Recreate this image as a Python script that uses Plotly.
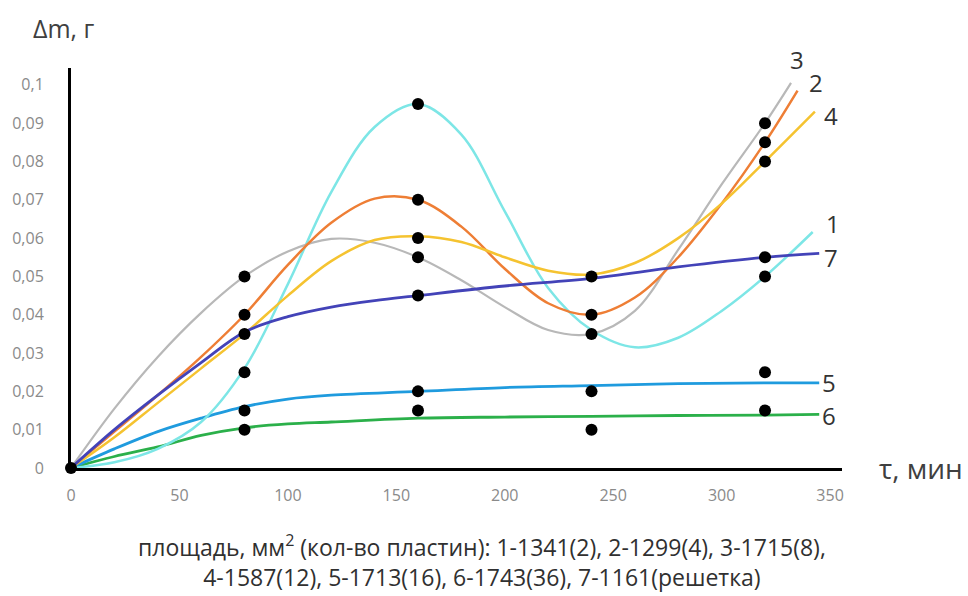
import plotly.graph_objects as go

# ---- data ----
# measured points (black dots)
dot_x = [0,
         80, 80, 80, 80, 80, 80,
         160, 160, 160, 160, 160, 160, 160,
         240, 240, 240, 240, 240,
         320, 320, 320, 320, 320, 320, 320]
dot_y = [0,
         0.05, 0.04, 0.035, 0.025, 0.015, 0.01,
         0.095, 0.07, 0.06, 0.055, 0.045, 0.02, 0.015,
         0.05, 0.04, 0.035, 0.02, 0.01,
         0.09, 0.085, 0.08, 0.055, 0.05, 0.025, 0.015]

# smoothed curves
c1_x = [0, 20, 40, 60, 80, 100, 120, 140, 160, 180, 200, 220, 240, 260, 280, 300, 320, 342]
c1_y = [0, 0.0015, 0.005, 0.012, 0.026, 0.048, 0.072, 0.089, 0.095, 0.087, 0.067, 0.047,
        0.036, 0.0315, 0.034, 0.041, 0.050, 0.0616]

c2_x = [0, 20, 40, 60, 80, 100, 120, 140, 160, 180, 200, 220, 240, 260, 280, 300, 320, 335]
c2_y = [0, 0.0095, 0.019, 0.029, 0.040, 0.053, 0.064, 0.0703, 0.070, 0.063, 0.052, 0.043,
        0.040, 0.0445, 0.055, 0.069, 0.085, 0.0985]

c3_x = [0, 20, 40, 60, 80, 100, 120, 140, 160, 180, 200, 220, 240, 260, 280, 300, 320, 332]
c3_y = [0, 0.0155, 0.029, 0.0405, 0.050, 0.0565, 0.0598, 0.0588, 0.055, 0.049, 0.042, 0.036,
        0.035, 0.041, 0.057, 0.074, 0.090, 0.1005]

c4_x = [0, 20, 40, 60, 80, 100, 120, 140, 160, 180, 200, 220, 240, 260, 280, 300, 320, 343]
c4_y = [0, 0.008, 0.017, 0.026, 0.035, 0.045, 0.054, 0.0595, 0.0605, 0.059, 0.055, 0.0515,
        0.0505, 0.0535, 0.060, 0.069, 0.080, 0.093]

c5_x = [0, 20, 40, 60, 80, 100, 120, 160, 200, 240, 280, 320, 345]
c5_y = [0, 0.005, 0.0095, 0.013, 0.016, 0.018, 0.019, 0.020, 0.021, 0.0215, 0.022, 0.0222, 0.0222]

c6_x = [0, 20, 40, 60, 80, 100, 120, 160, 200, 240, 280, 320, 345]
c6_y = [0, 0.003, 0.0055, 0.0085, 0.0105, 0.0115, 0.012, 0.013, 0.0133, 0.0135, 0.0137, 0.0138, 0.014]

c7_x = [0, 20, 40, 60, 80, 100, 120, 140, 160, 200, 240, 280, 320, 345]
c7_y = [0, 0.010, 0.019, 0.0275, 0.0355, 0.0395, 0.042, 0.0437, 0.045, 0.0475, 0.0495, 0.0525,
        0.055, 0.056]

# curve end labels
lab_text = ["3", "2", "4", "1", "7", "5", "6"]
lab_x = [330.5, 339.5, 346.5, 347, 346.5, 345.5, 345.5]
lab_y = [0.1065, 0.1005, 0.092, 0.0637, 0.055, 0.0224, 0.0136]

x_ticks = [0, 50, 100, 150, 200, 250, 300, 350]
x_ticktext = ["0", "50", "100", "150", "200", "250", "300", "350"]
y_ticks = [0, 0.01, 0.02, 0.03, 0.04, 0.05, 0.06, 0.07, 0.08, 0.09, 0.1]
y_ticktext = ["0", "0,01", "0,02", "0,03", "0,04", "0,05", "0,06", "0,07", "0,08", "0,09", "0,1"]

caption = ("площадь, мм<sup>2</sup> (кол-во пластин): 1-1341(2), 2-1299(4), 3-1715(8),<br>"
           "4-1587(12), 5-1713(16), 6-1743(36), 7-1161(решетка)")

curves = [
    (c6_x, c6_y, "#2BB04A", 2.8),
    (c5_x, c5_y, "#1F9BDE", 2.8),
    (c1_x, c1_y, "#7DE6E6", 2.5),
    (c3_x, c3_y, "#B8B8B8", 2.2),
    (c2_x, c2_y, "#EE7E35", 2.5),
    (c4_x, c4_y, "#F5C330", 2.5),
    (c7_x, c7_y, "#4343B8", 2.8),
]

FONT = "Open Sans"
XMAX = 355.5
YMAX = 0.1044

fig = go.Figure()
for cx, cy, col, w in curves:
    fig.add_trace(go.Scatter(x=cx, y=cy, mode="lines",
                             line=dict(color=col, width=w, shape="spline", smoothing=1.0),
                             hoverinfo="skip", cliponaxis=False))

fig.add_trace(go.Scatter(x=dot_x, y=dot_y, mode="markers",
                         marker=dict(color="black", size=12),
                         cliponaxis=False))

for t, lx, ly in zip(lab_text, lab_x, lab_y):
    fig.add_annotation(x=lx, y=ly / YMAX, xref="x", yref="paper", text=t, showarrow=False,
                       xanchor="left", yanchor="middle",
                       font=dict(family=FONT, size=24, color="#333333"))

fig.add_annotation(x=-0.009, y=1.1, xref="paper", yref="paper", text="Δm, г",
                   showarrow=False, xanchor="center", yanchor="middle",
                   font=dict(family=FONT, size=25, color="#404040"))
fig.add_annotation(x=1.045, y=0.0, xref="paper", yref="paper", text="τ, мин",
                   showarrow=False, xanchor="left", yanchor="middle",
                   font=dict(family=FONT, size=28, color="#404040"))
fig.add_annotation(x=0.533, y=-0.233, xref="paper", yref="paper", text=caption,
                   showarrow=False, xanchor="center", yanchor="middle", align="center",
                   font=dict(family=FONT, size=23, color="#303030"))

fig.update_layout(
    width=968, height=596,
    margin=dict(l=68, r=126, t=68, b=128),
    paper_bgcolor="white", plot_bgcolor="white",
    showlegend=False,
    font=dict(family=FONT),
)
fig.update_xaxes(range=[0, XMAX], showline=True, linecolor="black", linewidth=3,
                 showgrid=False, zeroline=False, tickvals=x_ticks, ticktext=x_ticktext,
                 ticks="", ticklabelstandoff=11,
                 tickfont=dict(family=FONT, size=16, color="#8A8A8A"))
fig.update_yaxes(range=[0, YMAX], showline=True, linecolor="black", linewidth=3,
                 showgrid=False, zeroline=False, tickvals=y_ticks, ticktext=y_ticktext,
                 ticks="", ticklabelstandoff=21,
                 tickfont=dict(family=FONT, size=16, color="#8A8A8A"))

fig.write_html("out.html", post_script="document.body.style.margin='0px';",
               config={"displayModeBar": False})
